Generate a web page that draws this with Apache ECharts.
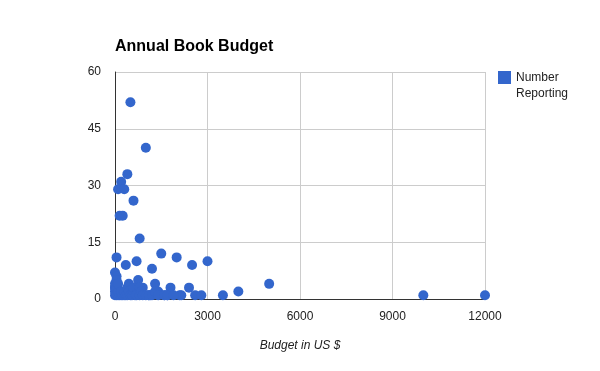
<!DOCTYPE html>
<html><head><meta charset="utf-8">
<script src="https://cdn.jsdelivr.net/npm/echarts@6/dist/echarts.min.js"></script>
<style>html,body{margin:0;padding:0;background:#fff}#c{width:600px;height:371px}</style>
</head><body><div id="c"></div>
<script>
const budgets = [500,1000,400,200,100,300,600,150,250,800,1500,50,2000,700,3000,350,2500,1200,0,50,750,5000,1300,450,900,1800,2400,0,4000,1400,3500,10000,12000,2600,2800,2100,2150,1600,1700,1100,1150,
 0,0,0,0,50,50,50,100,100,100,150,200,200,250,300,300,350,400,400,450,500,550,600,600,650,700,800,800,850,900,1000,1100,1200,1300,1400,1600,1700,1900];
const counts = [52,40,33,31,29,29,26,22,22,16,12,11,11,10,10,9,9,8,7,6,5,4,4,4,3,3,3,3,2,2,1,1,1,1,1,1,1,1,1,1,1,
 1,2,3,4,1,3,5,1,2,4,1,1,2,1,1,2,1,1,3,2,1,1,2,3,1,1,1,3,2,1,1,1,1,2,1,1,1,1];
const xTicks = [0,3000,6000,9000,12000];
const yTicks = [0,15,30,45,60];
const points = budgets.map((b,i)=>[b,counts[i]]);
const chart = echarts.init(document.getElementById('c'));
chart.setOption({
  animation:false,
  title:{text:'Annual Book Budget',left:110,top:34,textStyle:{fontFamily:'Arial, Liberation Sans',fontSize:16,fontWeight:'bold',color:'#000'}},
  legend:{data:['Number\nReporting'],left:493,top:65,orient:'vertical',itemWidth:13,itemHeight:30,
    icon:'path://M0 0H13V13H0Z M0 29.99H0.01V30H0Z',
    textStyle:{fontFamily:'Arial, Liberation Sans',fontSize:12,color:'#222',lineHeight:16}},
  grid:{left:115,right:115,top:72,bottom:72},
  xAxis:{type:'value',min:0,max:12000,interval:3000,
    name:'Budget in US $',nameLocation:'middle',nameGap:41,
    nameTextStyle:{fontFamily:'Arial, Liberation Sans',fontSize:12,fontStyle:'italic',color:'#222'},
    axisLine:{show:true,onZero:false,lineStyle:{color:'#333'}},axisTick:{show:false},
    axisLabel:{fontFamily:'Arial, Liberation Sans',fontSize:12,color:'#222',margin:12,
      formatter:v=>xTicks.includes(v)?String(v):''},
    splitLine:{show:true,lineStyle:{color:'#ccc'}}},
  yAxis:{type:'value',min:0,max:60,interval:15,
    axisLine:{show:true,lineStyle:{color:'#333'}},axisTick:{show:false},
    axisLabel:{fontFamily:'Arial, Liberation Sans',fontSize:12,color:'#222',margin:14,
      formatter:v=>yTicks.includes(v)?String(v):''},
    splitLine:{show:true,lineStyle:{color:'#ccc'}}},
  series:[{name:'Number\nReporting',type:'scatter',data:points,symbolSize:10,
    itemStyle:{color:'#3366cc',opacity:1}}]
});
</script></body></html>
